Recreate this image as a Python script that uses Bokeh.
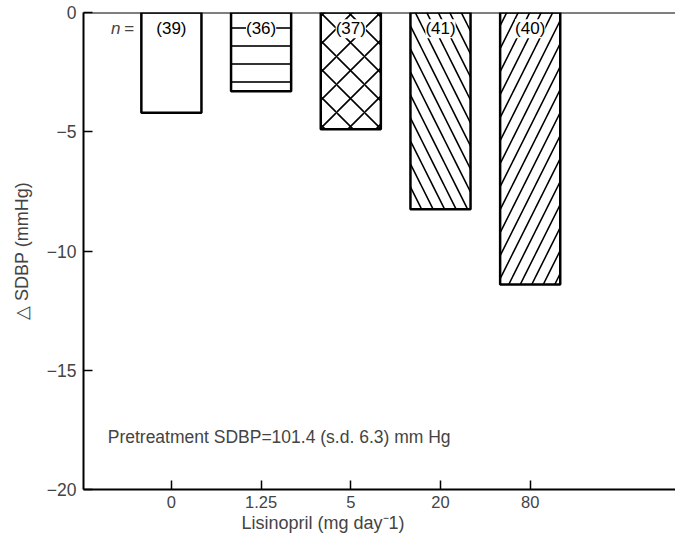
from bokeh.plotting import figure
from bokeh.models import ColumnDataSource, Range1d, FixedTicker, Span, Label, LabelSet, Title
from bokeh.core.properties import value
from bokeh.embed import file_html
from bokeh.resources import INLINE

# ---- data ----
doses = ["0", "1.25", "5", "20", "80"]
delta_sdbp = [-4.2, -3.3, -4.9, -8.25, -11.4]
n_counts = [39, 36, 37, 41, 40]
y_ticks = [-20, -15, -10, -5, 0]
y_tick_labels = ["\u221220", "\u221215", "\u221210", "\u22125", "0"]
hatches = [" ", "horizontal_line", "diagonal_cross", "left_diagonal_line", "right_diagonal_line"]
hatch_scales = [16, 18, 28, 23, 23]

FONT = "Liberation Sans"
pos = list(range(len(doses)))

src = ColumnDataSource(dict(
    x=pos, top=[0] * len(doses), bottom=delta_sdbp, hatch=hatches, hs=hatch_scales,
    n=["(%d)" % v for v in n_counts], ly=[-0.68] * len(doses),
))

p = figure(width=675, height=540, output_backend="svg", toolbar_location=None,
           x_range=Range1d(-0.98, 5.62), y_range=Range1d(-20, 0),
           min_border_left=83, min_border_right=0, min_border_top=12, min_border_bottom=51)
p.outline_line_color = None
p.grid.grid_line_color = None
p.background_fill_color = "white"
p.border_fill_color = "white"

p.vbar(x="x", top="top", bottom="bottom", width=0.67, source=src,
       fill_color="white", line_color="black", line_width=2.5,
       hatch_pattern="hatch", hatch_color="black", hatch_scale="hs", hatch_weight=1.6)

p.add_layout(LabelSet(x="x", y="ly", text="n", source=src, text_align="center",
                      text_baseline="middle", text_font=value(FONT), text_font_size="17px",
                      text_color="black", background_fill_color="white",
                      border_line_color=None))

p.add_layout(Span(location=0, dimension="width", line_color="black", line_width=2))

p.add_layout(Label(x=-0.62, y=-0.68, text="n", text_font=FONT, text_font_style="italic",
                   text_font_size="17px", text_align="center", text_baseline="middle"))
p.add_layout(Label(x=-0.47, y=-0.68, text="=", text_font=FONT,
                   text_font_size="17px", text_align="center", text_baseline="middle"))

p.add_layout(Label(x=-0.71, y=-17.78, text="Pretreatment SDBP=101.4 (s.d. 6.3) mm Hg",
                   text_font=FONT, text_font_size="17.5px", text_align="left",
                   text_baseline="middle"))

p.add_layout(Title(text="Lisinopril (mg day\u207b1)", align="left", offset=158,
                   text_font=FONT, text_font_size="18px", text_font_style="normal",
                   standoff=0), "below")

xa = p.xaxis[0]
xa.ticker = FixedTicker(ticks=pos)
xa.major_label_overrides = {i: d for i, d in enumerate(doses)}
xa.axis_line_width = 2
xa.major_tick_in = 9
xa.major_tick_out = 0
xa.major_tick_line_width = 1.5
xa.minor_tick_line_color = None
xa.major_label_text_font = FONT
xa.major_label_text_font_size = "16.5px"
xa.major_label_standoff = 6

ya = p.yaxis[0]
ya.ticker = FixedTicker(ticks=y_ticks)
ya.major_label_overrides = {t: l for t, l in zip(y_ticks, y_tick_labels)}
ya.axis_line_width = 2
ya.major_tick_in = 9
ya.major_tick_out = 0
ya.major_tick_line_width = 1.5
ya.minor_tick_line_color = None
ya.major_label_text_font = FONT
ya.major_label_text_font_size = "17.5px"
ya.major_label_standoff = 7
ya.axis_label = "\u25b3 SDBP (mmHg)"
ya.axis_label_text_font = FONT
ya.axis_label_text_font_size = "18px"
ya.axis_label_text_font_style = "normal"
ya.axis_label_standoff = 12

open("out.html", "w").write(file_html(p, INLINE))
